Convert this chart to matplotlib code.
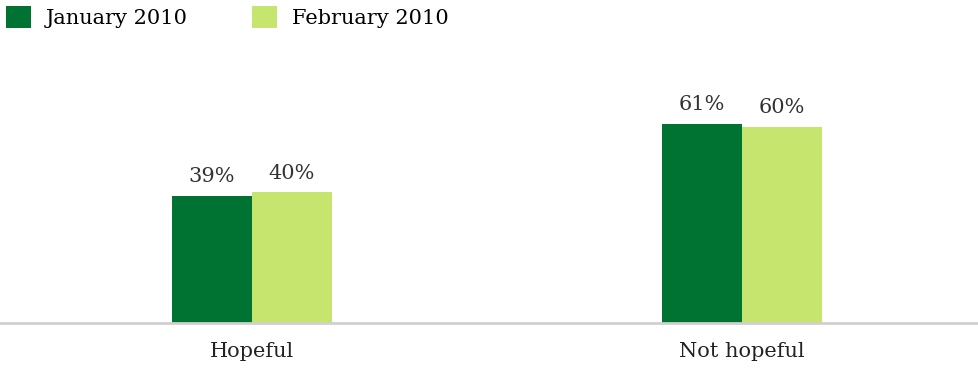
import matplotlib
matplotlib.use("Agg")
import matplotlib.pyplot as plt
import numpy as np

categories = ["Hopeful", "Not hopeful"]
series     = ["January 2010", "February 2010"]
jan_2010   = [39, 61]
feb_2010   = [40, 60]

COLORS = ["#007332", "#c5e56e"]
plt.rcParams["font.family"] = ["DejaVu Serif"]

fig = plt.figure(figsize=(9.79, 3.68), dpi=100)
ax = fig.add_axes([0, 45 / 368, 1, 323 / 368])

x = np.arange(len(categories))
w = 0.163
b1 = ax.bar(x - w / 2, jan_2010, w, color=COLORS[0], label=series[0])
b2 = ax.bar(x + w / 2, feb_2010, w, color=COLORS[1], label=series[1])

for bars, vals in [(b1, jan_2010), (b2, feb_2010)]:
    for bar, v in zip(bars, vals):
        ax.text(bar.get_x() + bar.get_width() / 2, v + 3, f"{v}%",
                ha="center", va="bottom", fontsize=15, color="#333333")

ax.set_xlim(-0.514, 1.484)
ax.set_ylim(0, 99)
ax.set_xticks(x)
ax.set_xticklabels(categories, fontsize=15, color="#222222")
ax.tick_params(axis="x", length=0, pad=14)
ax.set_yticks([])
for s in ["top", "right", "left"]:
    ax.spines[s].set_visible(False)
ax.spines["bottom"].set_color("#d0d0d0")
ax.spines["bottom"].set_linewidth(2)

fig.legend(handles=[b1, b2], loc="upper left", bbox_to_anchor=(0.0, 1.0),
           ncol=2, frameon=False, fontsize=15, handlelength=1.2,
           handleheight=1.2, handletextpad=0.7, columnspacing=3.1,
           borderaxespad=0.1, borderpad=0.2)

fig.savefig("out.png", dpi=100)
